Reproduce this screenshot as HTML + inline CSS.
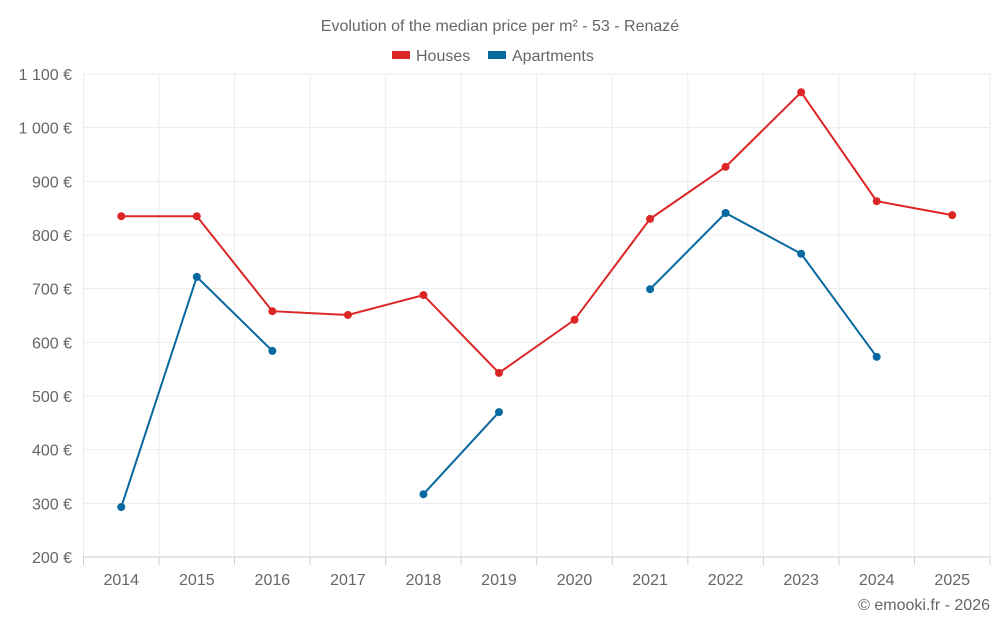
<!DOCTYPE html>
<html><head><meta charset="utf-8"><style>
body{margin:0;background:#fff;font-family:"Liberation Sans",sans-serif;}
svg text{font-family:"Liberation Sans",sans-serif;fill:#666;}
</style></head><body>
<svg id="chart" width="1000" height="625">
<text x="500" y="31" text-anchor="middle" font-size="16">Evolution of the median price per m² - 53 - Renazé</text>
<g>
<rect x="392" y="51" width="18" height="8" fill="#dc2626"/>
<text x="416" y="61" font-size="16">Houses</text>
<rect x="488" y="51" width="18" height="8" fill="#0868a0"/>
<text x="512" y="61" font-size="16">Apartments</text>
</g>
<g id="grid"></g><g id="axes"></g><g id="series"></g>
<text x="990" y="610" text-anchor="end" font-size="16">© emooki.fr - 2026</text>
</svg>
<script>
const years=[2014,2015,2016,2017,2018,2019,2020,2021,2022,2023,2024,2025];
const houses=[835,835,658,651,688,543,642,830,927,1066,863,837];
const apartments=[293,722,584,null,317,470,null,699,841,765,573,null];
const yTicks=[200,300,400,500,600,700,800,900,1000,1100];
const yTickLabels=["200 €","300 €","400 €","500 €","600 €","700 €","800 €","900 €","1 000 €","1 100 €"];
const L=83.5,R=990,T=74,B=557,ymin=200,ymax=1100;
const bw=(R-L)/years.length;
const x=i=>L+bw*(i+0.5);
const y=v=>B-(v-ymin)/(ymax-ymin)*(B-T);
const NS="http://www.w3.org/2000/svg";
function mk(tag,attrs,parent){const e=document.createElementNS(NS,tag);for(const k in attrs)e.setAttribute(k,attrs[k]);document.getElementById(parent).appendChild(e);return e;}
yTicks.forEach((v,i)=>{
 const l=mk('line',{x1:L,x2:R,y1:y(v),y2:y(v),stroke:i==0?'#ccc':'#ebebeb'},'grid');
 
 
 const t=mk('text',{x:72,y:y(v)+6,'text-anchor':'end','font-size':16},'axes');
 t.textContent=yTickLabels[i];
 
 
});
for(let i=0;i<=years.length;i++){
 const xx=L+bw*i;
 const g=mk('line',{x1:xx,x2:xx,y1:T,y2:B,stroke:'#ebebeb'},'grid');
 
 
 const tk=mk('line',{x1:xx,x2:xx,y1:B,y2:B+8,stroke:'#ccc'},'axes');
 
 
}
years.forEach((yr,i)=>{
 const t=mk('text',{x:x(i),y:585,'text-anchor':'middle','font-size':16},'axes');
 t.textContent=yr;
 
 
});
function draw(data,color,name){
 let segs=[],cur=[];
 data.forEach((v,i)=>{if(v==null){if(cur.length)segs.push(cur);cur=[];}else cur.push([x(i),y(v)]);});
 if(cur.length)segs.push(cur);
 segs.forEach(s=>{
  const p=mk('polyline',{points:s.map(q=>q.join(',')).join(' '),fill:'none',stroke:color,'stroke-width':2},'series');
  
  
 });
 data.forEach((v,i)=>{if(v==null)return;
  const c=mk('circle',{cx:x(i),cy:y(v),r:4,fill:color},'series');
  
  
 });
}
draw(houses,'#dc2626','houses');
draw(apartments,'#0868a0','apartments');
</script>
</body></html>
